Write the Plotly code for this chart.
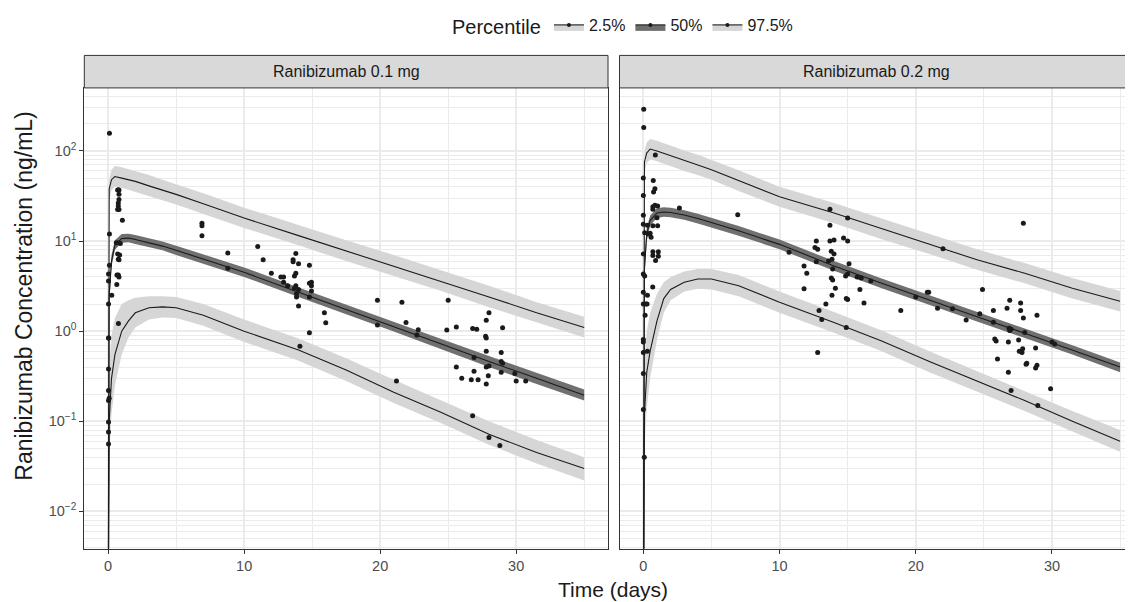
import plotly.graph_objects as go

# simulated percentile curves (days, ng/mL)
sim_t = [0, 0.08, 0.25, 0.5, 1, 1.5, 2, 3, 4, 5, 7, 10, 14, 17.5, 21, 24.5, 28, 31.5, 35]

# Ranibizumab 0.1 mg
p975_01 = [0.0001, 38, 48, 52, 50, 48, 46, 41, 37, 33, 26, 18, 11.5, 7.8, 5.3, 3.6, 2.4, 1.6, 1.1]
p975_01_hi = [0.0001, 48, 62, 68, 66, 63, 60, 54, 48, 43, 34, 23.5, 15, 10.2, 7, 4.7, 3.2, 2.1, 1.45]
p975_01_lo = [0.0001, 28, 37, 40, 39, 37, 35, 31.5, 28.5, 25.5, 20, 14, 9, 6, 4.1, 2.8, 1.85, 1.25, 0.85]
p50_01 = [0.0001, 2.5, 6, 9, 10.7, 10.8, 10.4, 9.6, 8.8, 7.9, 6.3, 4.5, 2.7, 1.75, 1.12, 0.72, 0.46, 0.30, 0.195]
p50_01_hi = [0.0001, 3.2, 7, 10.2, 12.0, 12.1, 11.7, 10.8, 9.9, 8.9, 7.1, 5.1, 3.05, 1.98, 1.27, 0.82, 0.53, 0.345, 0.225]
p50_01_lo = [0.0001, 2.0, 5.2, 8.0, 9.6, 9.7, 9.3, 8.6, 7.9, 7.0, 5.6, 4.0, 2.4, 1.55, 0.99, 0.63, 0.40, 0.26, 0.17]
p025_01 = [0.0001, 0.1, 0.3, 0.55, 1.0, 1.3, 1.6, 1.82, 1.86, 1.82, 1.5, 1.0, 0.62, 0.37, 0.21, 0.125, 0.072, 0.045, 0.03]
p025_01_hi = [0.0001, 0.4, 0.9, 1.4, 2.0, 2.2, 2.35, 2.45, 2.45, 2.4, 2.0, 1.35, 0.83, 0.5, 0.29, 0.17, 0.1, 0.062, 0.04]
p025_01_lo = [0.0001, 0.04, 0.12, 0.25, 0.55, 0.85, 1.1, 1.35, 1.42, 1.4, 1.15, 0.76, 0.47, 0.28, 0.16, 0.095, 0.055, 0.034, 0.022]

# Ranibizumab 0.2 mg
p975_02 = [0.0001, 76, 95, 105, 100, 94, 88, 78, 70, 62, 47, 31, 20.5, 13.7, 9.3, 6.2, 4.4, 3.0, 2.15]
p975_02_hi = [0.0001, 100, 125, 136, 130, 122, 114, 101, 91, 80, 61, 40, 26.5, 17.8, 12.1, 8.1, 5.7, 3.9, 2.8]
p975_02_lo = [0.0001, 58, 73, 81, 77, 72, 68, 60, 54, 48, 36, 24, 15.8, 10.5, 7.2, 4.8, 3.4, 2.3, 1.65]
p50_02 = [0.0001, 5, 12, 17, 20.5, 21, 20.8, 19.5, 17.8, 16, 13, 9.2, 5.3, 3.4, 2.2, 1.45, 0.95, 0.62, 0.40]
p50_02_hi = [0.0001, 6.5, 14, 19.2, 23.2, 23.7, 23.5, 22, 20.1, 18.1, 14.7, 10.4, 6.0, 3.85, 2.5, 1.64, 1.07, 0.70, 0.45]
p50_02_lo = [0.0001, 3.8, 10, 15, 18.1, 18.6, 18.4, 17.2, 15.7, 14.1, 11.5, 8.1, 4.7, 3.0, 1.94, 1.28, 0.84, 0.55, 0.35]
p025_02 = [0.0001, 0.12, 0.35, 0.6, 1.3, 2.3, 2.9, 3.5, 3.8, 3.8, 3.2, 2.1, 1.25, 0.78, 0.46, 0.28, 0.17, 0.10, 0.06]
p025_02_hi = [0.0001, 0.5, 1.0, 1.6, 2.6, 3.5, 4.0, 4.6, 4.9, 4.9, 4.2, 2.75, 1.63, 1.02, 0.6, 0.36, 0.22, 0.13, 0.08]
p025_02_lo = [0.0001, 0.05, 0.14, 0.3, 0.8, 1.6, 2.2, 2.75, 2.95, 2.9, 2.45, 1.6, 0.96, 0.6, 0.35, 0.215, 0.13, 0.077, 0.046]

# observed concentrations
obs_t_01 = [0.1, 0.7, 0.75, 0.8, 0.8, 0.8, 0.75, 0.75, 0.8, 0.7, 1.05, 0.1, 0.6, 0.8, 0.9, 0.7, 0.85, 0.75, 0.8,
            0.1, 0.03, 0.75, 0.8, 0.65, 0.03, 0.64, 0.27, 0.03, 0.76, 0.03, 0.05, 0.03, 0.03, 0.03, 0.08, 0.03, 0.03, 0.03,
            6.9, 6.9, 6.9, 8.8, 8.8, 11.0, 11.4, 12.0, 12.7, 12.9, 12.9, 13.2, 13.8, 13.6, 13.6, 14.0, 13.8, 13.7, 13.8,
            13.7, 14.0, 13.85, 13.85, 14.0, 14.8, 14.95, 14.8, 14.95, 14.95, 14.8, 15.9, 16.0, 14.8, 14.1, 19.8, 19.8,
            21.6, 21.9, 21.2, 22.8, 22.7, 25.0, 24.9, 25.6, 26.8, 27.1, 28.0, 27.8, 27.75, 27.8, 29.0, 27.8, 28.9, 26.9,
            28.9, 29.0, 27.8, 28.0, 25.6, 28.9, 29.9, 26.0, 26.7, 27.2, 26.9, 27.95, 27.8, 30.0, 30.7, 26.8, 28.0, 28.8]
obs_c_01 = [157, 37, 37, 37, 33, 29, 26.5, 24.5, 22.4, 22.4, 17, 12, 9.6, 9.6, 9.4, 7.2, 7.0, 6.3, 6.2,
            5.4, 4.3, 4.2, 4.0, 4.2, 3.6, 3.3, 2.5, 2.0, 1.22, 0.84, 0.84, 0.38, 0.22, 0.17, 0.18, 0.098, 0.076, 0.056,
            15.8, 14.8, 11.5, 7.4, 5.0, 8.7, 6.2, 4.4, 4.0, 4.0, 3.5, 3.2, 7.3, 6.2, 5.9, 5.6, 4.4, 4.1, 3.2,
            3.0, 2.9, 2.6, 2.4, 1.9, 5.4, 3.5, 3.4, 3.2, 2.8, 2.4, 1.6, 1.24, 0.96, 0.68, 2.2, 1.17,
            2.1, 1.25, 0.28, 1.04, 0.91, 2.2, 1.03, 1.11, 1.07, 1.05, 1.6, 1.32, 0.88, 0.84, 1.09, 0.60, 0.58, 0.51,
            0.46, 0.44, 0.40, 0.41, 0.40, 0.35, 0.34, 0.30, 0.29, 0.29, 0.36, 0.32, 0.26, 0.28, 0.28, 0.115, 0.066, 0.054]

obs_t_02 = [0.03, 0.03, 0.88, 0.0, 0.73, 0.85, 0.75, 0.0, 0.85, 1.05, 0.7, 2.65, 0.7, 6.93, 0.0, 1.0, 0.0, 0.3,
            0.7, 1.05, 0.1, 0.5, 0.37, 0.57, 0.0, 0.7, 1.1, 0.7, 1.1, 0.9, 0.0, 0.1, 0.69, 0.0, 0.3, 0.0, 0.2, 0.27,
            0.13, 0.0, 0.0, 0.3, 0.0, 0.0, 0.0, 0.07,
            10.7, 11.8, 12.0, 11.8, 12.8, 12.9, 13.1, 12.7, 12.6, 12.8, 12.7, 13.7, 13.7, 13.7, 14.0, 13.8, 14.0,
            13.85, 13.6, 13.9, 13.8, 13.9, 14.1, 13.85, 13.4, 14.7, 15.0, 15.0, 15.1, 14.85, 15.0, 14.9, 15.0, 15.9,
            16.2, 14.9, 15.7, 16.0, 16.7, 18.9, 20.0, 20.85, 20.95, 21.6, 22.0, 22.7, 23.7, 24.7, 24.9, 25.7, 25.7,
            25.8, 25.9, 26.0, 26.7, 26.9, 26.85, 26.9, 27.0, 26.8, 26.8, 27.0, 27.7, 27.7, 27.9, 27.9, 27.55, 27.6,
            27.85, 27.8, 28.0, 28.1, 28.15, 28.8, 28.9, 28.9, 28.8, 28.96, 30.0, 30.2, 29.9]
obs_c_02 = [290, 182, 90, 50, 47, 38, 35, 32, 25, 24.5, 24, 23.3, 22.5, 19.6, 19.3, 18.2, 15.4, 15,
            14.8, 14.8, 12.4, 12.2, 12.0, 11.0, 7.2, 7.6, 7.6, 6.9, 6.8, 6.1, 4.3, 4.1, 3.1, 2.7, 2.5, 2.0, 2.0, 2.0,
            1.5, 0.81, 0.76, 0.6, 0.58, 0.34, 0.135, 0.040,
            7.5, 5.3, 4.4, 2.95, 0.58, 1.7, 1.35, 10.0, 8.5, 8.1, 5.9, 22.5, 15, 10, 10.3, 7.7, 7.2,
            6.3, 6.0, 4.9, 3.9, 3.7, 3.0, 2.5, 2.0, 10.8, 10.0, 18, 5.6, 4.1, 4.3, 2.3, 2.25, 2.9,
            2.06, 1.1, 4.0, 3.9, 3.6, 1.7, 2.4, 2.7, 2.7, 1.8, 8.2, 1.77, 1.33, 1.56, 2.9, 1.26, 1.7,
            0.82, 0.78, 0.49, 1.8, 2.2, 1.08, 1.02, 1.05, 0.76, 0.35, 0.22, 2.05, 1.7, 1.4, 15.8, 0.80, 0.60,
            0.64, 0.58, 0.97, 0.43, 0.44, 0.65, 1.5, 0.42, 0.39, 0.15, 0.76, 0.72, 0.23]

panel_titles = ["Ranibizumab 0.1 mg", "Ranibizumab 0.2 mg"]
pct_labels = ["2.5%", "50%", "97.5%"]
y_tickvals = [0.01, 0.1, 1, 10, 100]
y_ticktext = ["10<sup>\u22122</sup>", "10<sup>\u22121</sup>", "10<sup>0</sup>", "10<sup>1</sup>", "10<sup>2</sup>"]
y_minor = [m * 10 ** k for k in range(-3, 3) for m in range(2, 10)]

LIGHT = "rgb(214,214,214)"
DARK = "rgb(112,112,112)"
INK = "#1a1a1a"
FONT = "Liberation Sans, Arial, sans-serif"

# page has an 8px body margin, so the figure is 1125x594 placed at (8, 8)
W, H = 1125, 594


def px(x):
    return (x - 8) / W


def py(y):
    return 1 - (y - 8) / H


fig = go.Figure()

panels = [
    ("x", "y", [(p025_01_lo, p025_01, p025_01_hi, LIGHT), (p975_01_lo, p975_01, p975_01_hi, LIGHT),
                (p50_01_lo, p50_01, p50_01_hi, DARK)], obs_t_01, obs_c_01),
    ("x2", "y2", [(p025_02_lo, p025_02, p025_02_hi, LIGHT), (p975_02_lo, p975_02, p975_02_hi, LIGHT),
                  (p50_02_lo, p50_02, p50_02_hi, DARK)], obs_t_02, obs_c_02),
]

for xa, ya, bands, ot, oc in panels:
    for lo, mid, hi, col in bands:
        fig.add_trace(go.Scatter(x=sim_t, y=lo, mode="lines", line=dict(width=0), showlegend=False,
                                 hoverinfo="skip", xaxis=xa, yaxis=ya))
        fig.add_trace(go.Scatter(x=sim_t, y=hi, mode="lines", line=dict(width=0), fill="tonexty",
                                 fillcolor=col, showlegend=False, hoverinfo="skip", xaxis=xa, yaxis=ya))
    for lo, mid, hi, col in bands:
        fig.add_trace(go.Scatter(x=sim_t, y=mid, mode="lines", line=dict(color=INK, width=1.1),
                                 showlegend=False, xaxis=xa, yaxis=ya))
    fig.add_trace(go.Scatter(x=ot, y=oc, mode="markers", marker=dict(color=INK, size=5),
                             showlegend=False, xaxis=xa, yaxis=ya))

# legend keys
for lab, col in zip(pct_labels, [LIGHT, DARK, LIGHT]):
    fig.add_trace(go.Scatter(x=[None], y=[None], mode="lines+markers", name=lab, fill="toself",
                             fillcolor=col, line=dict(color=INK, width=1.1),
                             marker=dict(color=INK, size=4)))

axis_font = dict(family=FONT, size=14.5, color="#4d4d4d")
xcommon = dict(type="linear", tickvals=[0, 10, 20, 30], ticks="outside", ticklen=4, tickcolor="#333333",
               tickfont=axis_font, showgrid=True, gridcolor="#ebebeb", gridwidth=1.6,
               minor=dict(tickvals=[5, 15, 25, 35], showgrid=True, gridcolor="#ebebeb", gridwidth=0.8),
               showline=True, mirror=True, linecolor="#333333", linewidth=1, zeroline=False)
ycommon = dict(type="log", range=[-2.415, 2.70], tickvals=y_tickvals, showgrid=True, gridcolor="#ebebeb",
               gridwidth=1.6, minor=dict(tickvals=y_minor, showgrid=True, gridcolor="#ebebeb", gridwidth=0.8),
               showline=True, mirror=True, linecolor="#333333", linewidth=1, zeroline=False)

left_dom = [px(84.3), px(608)]
right_dom = [px(619.5), 1.0]
y_dom = [py(548), py(80)]

fig.update_layout(
    width=W, height=H,
    margin=dict(l=0, r=0, t=0, b=0),
    paper_bgcolor="white", plot_bgcolor="white",
    font=dict(family=FONT, color="#1a1a1a"),
    xaxis=dict(domain=left_dom, range=[-1.75, 36.75], anchor="y", **xcommon),
    xaxis2=dict(domain=right_dom, range=[-1.75, 35.95], anchor="y2", **xcommon),
    yaxis=dict(domain=y_dom, anchor="x", ticktext=y_ticktext, ticks="outside", ticklen=4,
               tickcolor="#333333", tickfont=axis_font, **ycommon),
    yaxis2=dict(domain=y_dom, anchor="x2", showticklabels=False, ticks="", **ycommon),
    legend=dict(orientation="h", x=px(450), xanchor="left", y=py(17), yanchor="middle",
                title=dict(text="Percentile", side="left", font=dict(size=20)),
                font=dict(size=16), itemwidth=30, traceorder="normal", bgcolor="rgba(0,0,0,0)"),
    showlegend=True,
)

# facet strips
strip_x = [left_dom, right_dom]
for (x0, x1), title in zip(strip_x, panel_titles):
    fig.add_shape(type="rect", xref="paper", yref="paper", x0=x0, x1=x1, y0=py(80), y1=py(47),
                  fillcolor="#d9d9d9", line=dict(color="#333333", width=1))
    fig.add_annotation(x=(x0 + x1) / 2, y=py(63.5), xref="paper", yref="paper", text=title, showarrow=False,
                       font=dict(size=16, color="#1a1a1a"), xanchor="center", yanchor="middle")

fig.add_annotation(x=px(613), y=py(589), xref="paper", yref="paper", text="Time (days)",
                   showarrow=False, font=dict(size=21), xanchor="center", yanchor="middle")
fig.add_annotation(x=px(24), y=py(292), xref="paper", yref="paper",
                   text="Ranibizumab Concentration (ng/mL)", textangle=-90, showarrow=False,
                   font=dict(size=23), xanchor="center", yanchor="middle")

fig.write_html("out.html")
